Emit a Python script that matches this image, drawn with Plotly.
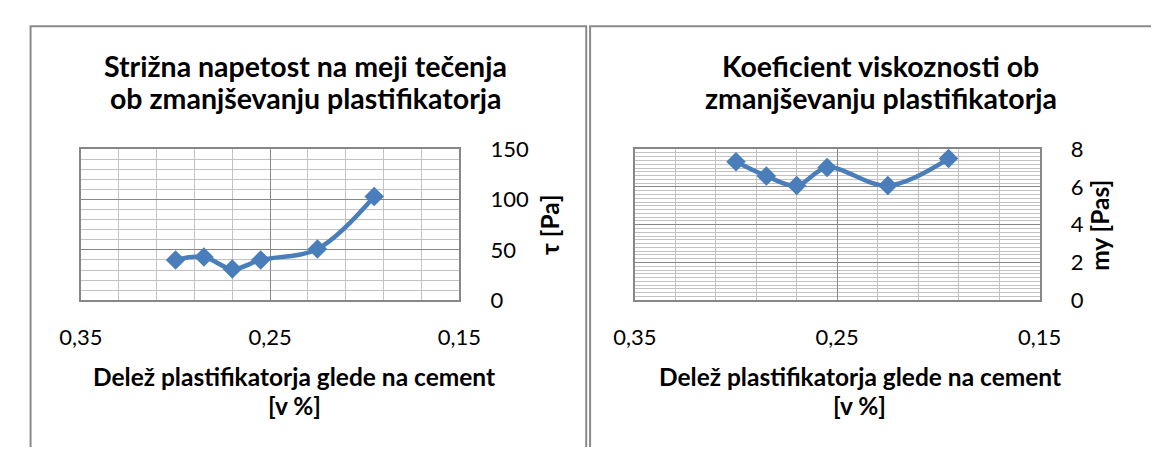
import plotly.graph_objects as go

# Data
plast_share = [0.30, 0.285, 0.27, 0.255, 0.225, 0.195]
tau_pa = [40, 43, 31, 40, 51, 103]
my_pas = [7.33, 6.58, 6.07, 7.03, 6.07, 7.5]

title_left = ["Strižna napetost na meji tečenja", "ob zmanjševanju plastifikatorja"]
title_right = ["Koeficient viskoznosti ob", "zmanjševanju plastifikatorja"]
xtitle = ["Delež plastifikatorja glede na cement", "[v %]"]
ytitle_left = "τ [Pa]"
ytitle_right = "my [Pas]"

# The page body keeps its default 8 px margin, so the figure is made 16 px
# smaller than the window and placed with page coordinates minus 8.
PAGE_OFF = 8
W, H = 1159 - 2 * PAGE_OFF, 455 - 2 * PAGE_OFF
BLUE = "#4A7EBB"
MAJOR = "#878787"
MINOR = "#C2C2C2"
FONT = "Lato"

def px_x(p):
    return (p - PAGE_OFF) / W

def px_y(p):
    return 1 - (p - PAGE_OFF) / H

fig = go.Figure()
for xa, ya, vals in [("x", "y", tau_pa), ("x2", "y2", my_pas)]:
    fig.add_trace(go.Scatter(x=plast_share, y=vals, mode="lines+markers",
                             line=dict(color=BLUE, width=4.5, shape="spline", smoothing=1),
                             marker=dict(symbol="diamond", size=15, color=BLUE),
                             xaxis=xa, yaxis=ya, showlegend=False, cliponaxis=False))

plot_top, plot_bot = 143.5, 304.5
left_dom = [px_x(61), px_x(454.5)]
right_dom = [px_x(637), px_x(1058)]
ydom = [px_y(plot_bot), px_y(plot_top)]

tickfont = dict(family=FONT, size=22, color="#000000")

def xaxis_cfg(dom, anchor):
    return dict(domain=dom, anchor=anchor, range=[0.35, 0.15], tick0=0.15, dtick=0.1,
                tickformat=".2f", showgrid=True, gridcolor=MAJOR, gridwidth=1.3,
                minor=dict(dtick=0.02, tick0=0.15, showgrid=True, gridcolor=MINOR, gridwidth=1.3),
                showline=True, linecolor=MAJOR, linewidth=1.5, mirror=True,
                ticks="outside", ticklen=17, tickcolor="rgba(0,0,0,0)",
                tickfont=tickfont, zeroline=False, fixedrange=True)

def yaxis_cfg(dom, anchor, rng, dt, mdt):
    return dict(domain=dom, anchor=anchor, side="right", range=rng, dtick=dt, tick0=0,
                showgrid=True, gridcolor=MAJOR, gridwidth=1.3,
                minor=dict(dtick=mdt, tick0=0, showgrid=True, gridcolor=MINOR, gridwidth=1.3),
                showline=True, linecolor=MAJOR, linewidth=1.5, mirror=True,
                ticks="outside", ticklen=25, tickcolor="rgba(0,0,0,0)",
                tickfont=tickfont, zeroline=False, fixedrange=True)

fig.update_layout(
    width=W, height=H, margin=dict(l=0, r=0, t=0, b=0),
    paper_bgcolor="white", plot_bgcolor="white",
    separators=",.",
    font=dict(family=FONT, color="#000000"),
    xaxis=xaxis_cfg(left_dom, "y"),
    yaxis=yaxis_cfg(ydom, "x", [0, 150], 50, 10),
    xaxis2=xaxis_cfg(right_dom, "y2"),
    yaxis2=yaxis_cfg(ydom, "x2", [0, 8], 2, 0.2),
)

# panel borders
for x0, x1 in [(8.6, 586.5), (590.5, 1190)]:
    fig.add_shape(type="rect", xref="paper", yref="paper",
                  x0=px_x(x0), x1=px_x(x1), y0=px_y(480), y1=px_y(12.5),
                  line=dict(color="#8A8A8A", width=2), layer="below")

ann = []
def add(text, x, y, size, angle=0):
    ann.append(dict(text=f"<b>{text}</b>", x=px_x(x), y=px_y(y), textangle=angle,
                    xref="paper", yref="paper", showarrow=False,
                    xanchor="center", yanchor="middle",
                    font=dict(family=FONT, size=size, color="#000000")))

add(title_left[0], 295, 55, 28.5)
add(title_left[1], 295, 89, 28.5)
add(title_right[0], 893, 55, 28.5)
add(title_right[1], 893, 89, 28.5)
for cx in (283, 871):
    add(xtitle[0], cx, 386, 24.5)
    add(xtitle[1], cx, 417, 24.5)
add(ytitle_left, 549, 224, 24.5, -90)
add(ytitle_right, 1120, 225, 24.5, -90)
fig.update_layout(annotations=ann)

fig.write_html("out.html")
